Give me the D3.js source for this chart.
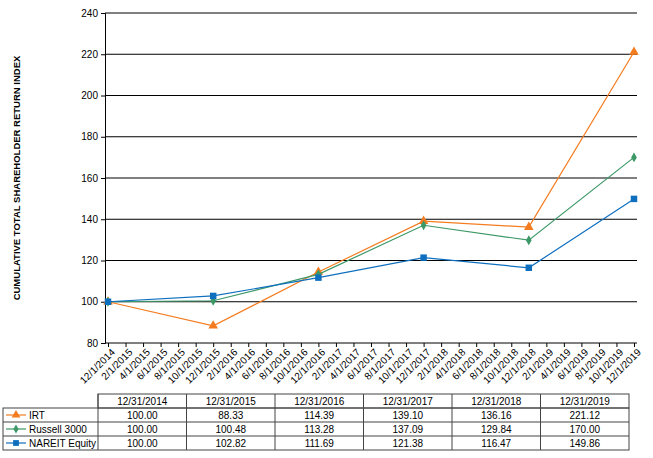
<!DOCTYPE html>
<html><head><meta charset="utf-8">
<script src="https://cdnjs.cloudflare.com/ajax/libs/d3/7.8.2/d3.min.js"></script>
<style>
body{margin:0;background:#fff;}
text{font-family:Arial,"Liberation Sans",sans-serif;}
</style></head>
<body><svg width="653" height="458"></svg>
<script>
const periods = ['12/31/2014','12/31/2015','12/31/2016','12/31/2017','12/31/2018','12/31/2019'];
const irt = [100.00, 88.33, 114.39, 139.10, 136.16, 221.12];
const russell = [100.00, 100.48, 113.28, 137.09, 129.84, 170.00];
const nareit = [100.00, 102.82, 111.69, 121.38, 116.47, 149.86];
const yTicks = [80, 100, 120, 140, 160, 180, 200, 220, 240];
// bi-monthly axis labels, 12/1/2014 .. 12/1/2019
const tickLabels = [];
for (let m = 0; m <= 60; m += 2) {
  const mo = (11 + m) % 12 + 1, yr = 2014 + Math.floor((11 + m) / 12);
  tickLabels.push(`${mo}/1/${yr}`);
}

const series = [
  { name: 'IRT', values: irt, color: '#F47C20', sym: d3.symbolTriangle, size: 40 },
  { name: 'Russell 3000', values: russell, color: '#3C9867', sym: d3.symbolDiamond, size: 28 },
  { name: 'NAREIT Equity', values: nareit, color: '#0F6FBF', sym: d3.symbolSquare, size: 42 }
];

const svg = d3.select('svg');
const L = 105, R = 637, T = 13, B = 343;

const x = d3.scaleLinear().domain([0, 60]).range([108, 634]);
const y = d3.scaleLinear().domain([80, 240]).range([B, T]);

// gridlines
svg.append('g').selectAll('line').data(yTicks.slice(1)).enter().append('line')
  .attr('x1', L).attr('x2', R).attr('y1', d => y(d)).attr('y2', d => y(d))
  .attr('stroke', '#000').attr('stroke-width', 1);

// y axis
svg.append('g').attr('transform', `translate(${L},0)`)
  .call(d3.axisLeft(y).tickValues(yTicks).tickSize(4).tickFormat(d3.format('d')))
  .call(g => g.select('.domain').attr('stroke', '#000'))
  .call(g => g.selectAll('text').attr('font-size', 10).attr('fill', '#000'));

// x axis
const xAxis = svg.append('g').attr('transform', `translate(0,${B})`)
  .call(d3.axisBottom(x).tickValues(d3.range(0, 61, 2)).tickSize(4)
    .tickFormat((d, i) => tickLabels[i]))
  .call(g => g.select('.domain').attr('d', `M${L},0H${R}`).attr('stroke', '#000'));
xAxis.selectAll('text').attr('font-size', 10).attr('fill', '#000')
  .attr('text-anchor', 'end').attr('dx', '-0.2em').attr('dy', '0.5em')
  .attr('transform', 'rotate(-45)');

svg.append('text').attr('transform', 'translate(20,178) rotate(-90)')
  .attr('text-anchor', 'middle').attr('font-size', 9.5).attr('font-weight', 'bold')
  .text('CUMULATIVE TOTAL  SHAREHOLDER RETURN INDEX');

const line = d3.line().x((d, i) => x(i * 12)).y(d => y(d));
series.forEach(s => {
  svg.append('path').attr('d', line(s.values)).attr('fill', 'none')
    .attr('stroke', s.color).attr('stroke-width', 1.2);
  svg.append('g').selectAll('path').data(s.values).enter().append('path')
    .attr('d', d3.symbol().type(s.sym).size(s.size))
    .attr('transform', (d, i) => `translate(${x(i * 12)},${y(d)})`)
    .attr('fill', s.color);
});

// data table
const tx0 = 3, tLab = 98, colW = 88.5, rowH = 14, ty0 = 394;
const tbl = svg.append('g').attr('font-size', 10);
tbl.append('rect').attr('x', tLab).attr('y', ty0).attr('width', colW * 6).attr('height', rowH)
  .attr('fill', 'none').attr('stroke', '#444');
tbl.append('rect').attr('x', tx0).attr('y', ty0 + rowH).attr('width', tLab - tx0 + colW * 6).attr('height', rowH * 3)
  .attr('fill', 'none').attr('stroke', '#444');
for (let r = 1; r < 3; r++) tbl.append('line').attr('x1', tx0).attr('x2', tLab + colW * 6)
  .attr('y1', ty0 + rowH * (r + 1)).attr('y2', ty0 + rowH * (r + 1)).attr('stroke', '#444');
for (let c = 0; c < 6; c++) tbl.append('line').attr('x1', tLab + colW * c).attr('x2', tLab + colW * c)
  .attr('y1', ty0).attr('y2', ty0 + rowH * 4).attr('stroke', '#444');
periods.forEach((p, c) => tbl.append('text').attr('x', tLab + colW * (c + 0.5)).attr('y', ty0 + 10.5)
  .attr('text-anchor', 'middle').text(p));
series.forEach((s, r) => {
  const cy = ty0 + rowH * (r + 1) + rowH / 2;
  tbl.append('line').attr('x1', 6).attr('x2', 26).attr('y1', cy).attr('y2', cy).attr('stroke', s.color).attr('stroke-width', 1.2);
  tbl.append('path').attr('d', d3.symbol().type(s.sym).size(s.size * 0.8)).attr('transform', `translate(16,${cy})`).attr('fill', s.color);
  tbl.append('text').attr('x', 29).attr('y', cy + 3.5).text(s.name);
  s.values.forEach((v, c) => tbl.append('text').attr('x', tLab + colW * (c + 0.5)).attr('y', cy + 3.5)
    .attr('text-anchor', 'middle').text(v.toFixed(2)));
});
</script></body></html>
